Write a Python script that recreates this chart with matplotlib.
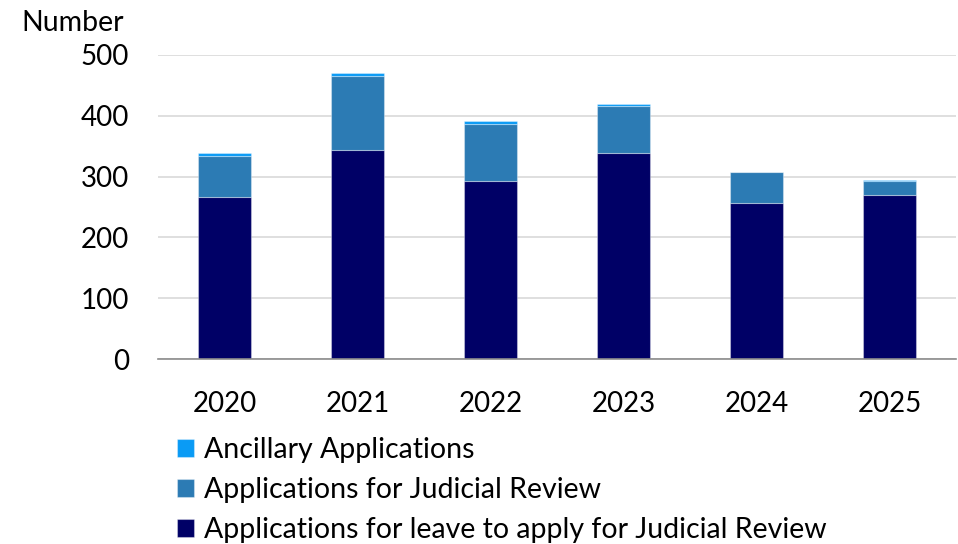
import matplotlib

matplotlib.use("Agg")

import matplotlib.pyplot as plt
import numpy as np

years = ["2020", "2021", "2022", "2023", "2024", "2025"]
leave_jr = [267, 344, 292, 338, 256, 269]
judicial_review = [67, 121, 95, 78, 51, 23]
ancillary = [4, 5, 4, 3, 1, 3]

series_labels = [
    "Applications for leave to apply for Judicial Review",
    "Applications for Judicial Review",
    "Ancillary Applications",
]
colors = ["#000066", "#2C7BB4", "#0A9BF5"]

plt.rcParams["font.family"] = ["Lato", "DejaVu Sans"]

fig = plt.figure(figsize=(9.58, 5.44), dpi=100)
ax = fig.add_axes([0.165, 0.34, 0.833, 0.559])

x = np.arange(len(years))
width = 0.4
bottom = np.zeros(len(years))
bars = []
for values, label, color in zip([leave_jr, judicial_review, ancillary], series_labels, colors):
    b = ax.bar(x, values, width, bottom=bottom, color=color, label=label,
               edgecolor=(1, 1, 1, 0.35), linewidth=0.8, zorder=3)
    bars.append(b)
    bottom += np.asarray(values, dtype=float)

ax.set_xlim(-0.5, len(years) - 0.5)
ax.set_ylim(0, 500)
ax.set_yticks(range(0, 501, 100))
ax.set_xticks(x, labels=years)
ax.tick_params(axis="both", length=0, labelsize=20, colors="black")
ax.tick_params(axis="x", pad=23)
ax.tick_params(axis="y", pad=21)
ax.grid(axis="y", color="#D9D9D9", linewidth=1.2, zorder=0)
for side in ["top", "right", "left"]:
    ax.spines[side].set_visible(False)
ax.spines["bottom"].set_color("#8C8C8C")
ax.spines["bottom"].set_linewidth(1.2)
ax.spines["bottom"].set_zorder(4)

fig.text(0.022, 0.958, "Number", fontsize=20.5, ha="left", va="center")

handles = [bars[2], bars[1], bars[0]]
labels = [series_labels[2], series_labels[1], series_labels[0]]
fig.legend(handles, labels, loc="upper left", bbox_to_anchor=(0.17, 0.222),
           frameon=False, fontsize=20.5, handlelength=0.6, handleheight=0.6,
           handletextpad=0.35, labelspacing=0.48, borderpad=0)

fig.savefig("out.png", dpi=100)
